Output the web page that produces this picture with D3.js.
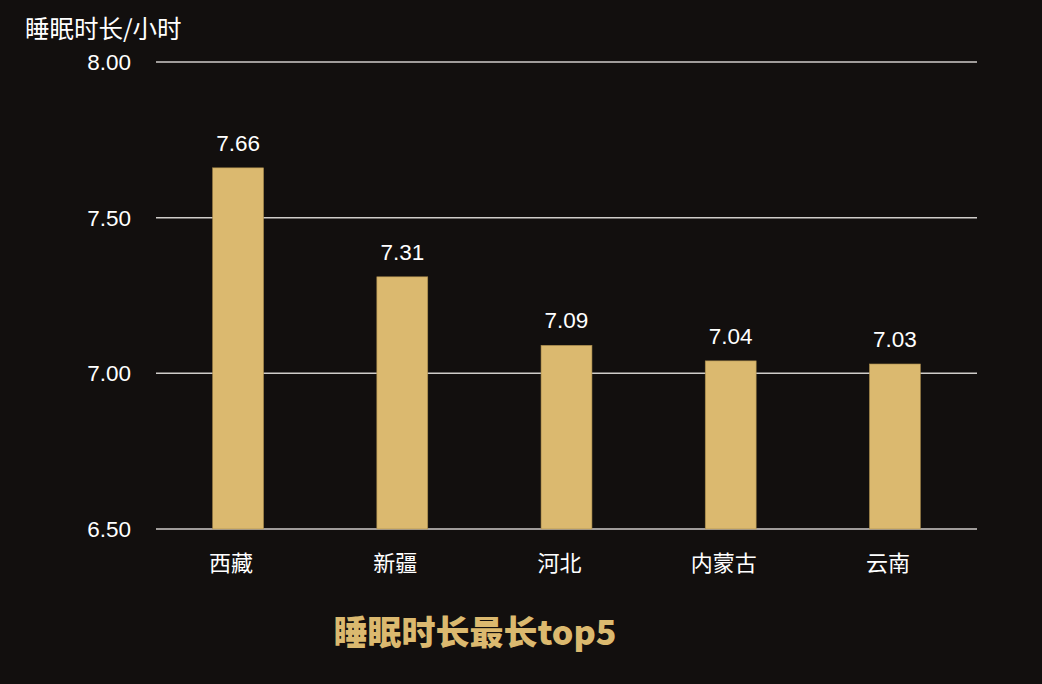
<!DOCTYPE html>
<html><head><meta charset="utf-8">
<script src="https://cdn.jsdelivr.net/npm/d3@7"></script>
<style>html,body{margin:0;padding:0;background:#120f0e;}svg{display:block;}</style>
</head><body>
<script>
const categories = ["西藏", "新疆", "河北", "内蒙古", "云南"];
const values = [7.66, 7.31, 7.09, 7.04, 7.03];
const yTicks = [6.5, 7.0, 7.5, 8.0];
const yTitle = "睡眠时长/小时";
const chartTitle = "睡眠时长最长top5";

const W = 1042, H = 684;
const m = {left: 156, right: 65, top: 62, bottom: 155};
const font = "'Noto Sans CJK SC', 'Liberation Sans', Arial, sans-serif";
const numFont = "'Liberation Sans', Arial, sans-serif";
const barColor = "#dbb96f";

const svg = d3.select("body").append("svg").attr("width", W).attr("height", H)
  .style("background", "#120f0e");

const x = d3.scaleBand().domain(categories).range([m.left, W - m.right]).padding(0);
const y = d3.scaleLinear().domain([6.5, 8.0]).range([H - m.bottom, m.top]);
const bw = x.bandwidth() * 0.31;

// grid
svg.append("g").selectAll("line").data(yTicks).join("line")
  .attr("x1", m.left).attr("x2", W - m.right)
  .attr("y1", d => y(d)).attr("y2", d => y(d))
  .attr("stroke", "#d0cdca").attr("stroke-width", 1.5);

// y tick labels
svg.append("g").selectAll("text").data(yTicks).join("text")
  .attr("x", 131).attr("y", d => y(d)).attr("dy", "0.36em")
  .attr("text-anchor", "end").attr("fill", "#fff")
  .style("font-family", numFont).style("font-size", "22.5px")
  .text(d => d.toFixed(2));

// bars
svg.append("g").selectAll("rect").data(values).join("rect")
  .attr("x", (d, i) => x(categories[i]) + x.bandwidth() / 2 - bw / 2)
  .attr("width", bw)
  .attr("y", d => y(d))
  .attr("height", d => y(6.5) - y(d))
  .attr("fill", barColor).attr("stroke", "#a88a4c").attr("stroke-width", 0.6);

// value labels
svg.append("g").selectAll("text").data(values).join("text")
  .attr("x", (d, i) => x(categories[i]) + x.bandwidth() / 2)
  .attr("y", d => y(d) - 17)
  .attr("text-anchor", "middle").attr("fill", "#fff")
  .style("font-family", numFont).style("font-size", "22.5px")
  .text(d => d.toFixed(2));

// category labels
svg.append("g").selectAll("text").data(categories).join("text")
  .attr("x", d => x(d) + x.bandwidth() / 2 - 7)
  .attr("y", H - m.bottom + 42)
  .attr("text-anchor", "middle").attr("fill", "#fff")
  .style("font-family", font).style("font-size", "22px")
  .text(d => d);

// y title
svg.append("text").attr("x", 25).attr("y", 38).attr("fill", "#fff")
  .style("font-family", font).style("font-size", "24.5px").text(yTitle);

// chart title
svg.append("text").attr("x", 475).attr("y", 645).attr("text-anchor", "middle")
  .attr("fill", barColor).style("font-family", font).style("font-size", "34px")
  .style("font-weight", "900").text(chartTitle);
</script>
</body></html>
